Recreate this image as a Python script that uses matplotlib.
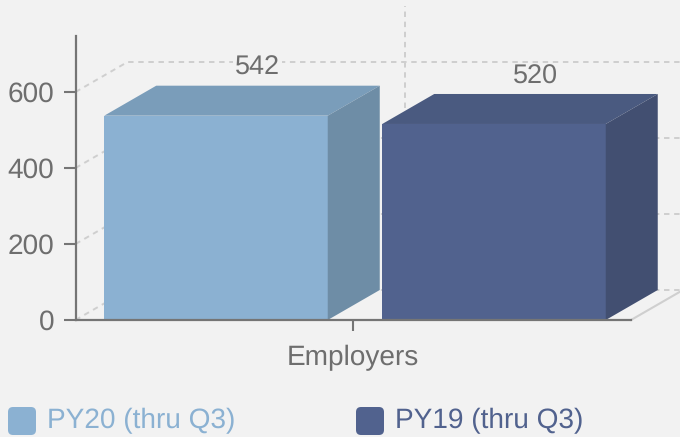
import matplotlib
matplotlib.use('Agg')
import matplotlib.pyplot as plt
from matplotlib.patches import FancyBboxPatch, Polygon
from matplotlib.transforms import IdentityTransform

plt.rcParams['font.family'] = ['Liberation Sans', 'DejaVu Sans']
plt.rcParams['text.hinting'] = 'no_hinting'
plt.rcParams['text.hinting_factor'] = 1

categories = ['Employers']
series_names = ['PY20 (thru Q3)', 'PY19 (thru Q3)']
series_values = [542, 520]
y_ticks = [0, 200, 400, 600]

BG = '#f2f2f2'
AXIS = '#757575'
TEXT = '#6e6e6e'
GRID = '#cfcfcf'
front_colors = ['#8bb1d2', '#51628e']
top_colors = ['#7a9dba', '#4a5a80']
side_colors = ['#6e8da6', '#424f71']

W, H = 680, 437
LEFT, RIGHT, TOP, BOTTOM = 75.5, 631, 36, 320
PX_PER_UNIT = 0.38
# the bars sit a bit lower than the axis scale in the original 3d projection
FRONT_SCALE = 0.992

fig = plt.figure(figsize=(W / 100, H / 100), dpi=100, facecolor=BG)
ax = fig.add_axes([LEFT / W, 1 - BOTTOM / H, (RIGHT - LEFT) / W, (BOTTOM - TOP) / H])
ax.set_facecolor('none')
ax.set_xlim(-0.5, 0.5)
ax.set_ylim(0, (BOTTOM - TOP) / PX_PER_UNIT)

px_x = 1 / (RIGHT - LEFT)
depth_x = 52 * px_x
depth_y = 30 / PX_PER_UNIT
bar_w = 223.5 * px_x
bar_lefts = [(104 - 353) * px_x, (382 - 353) * px_x]
right_end = 0.5 + 55 * px_x
dash = (0, (2.8, 2.4))

# back wall grid
for v in y_ticks:
    ax.plot([-0.5, -0.5 + depth_x, right_end], [v, v + depth_y, v + depth_y], color=GRID,
            lw=1.4, ls=dash, clip_on=False, zorder=1)
ax.plot([depth_x, depth_x], [depth_y, ax.get_ylim()[1] + depth_y], color=GRID, lw=1.4, ls=dash,
        clip_on=False, zorder=1)
ax.plot([0.5, 0.5 + depth_x], [0, depth_y], color=GRID, lw=1.5, clip_on=False, zorder=1)

# bars
for i, v in enumerate(series_values):
    h = v * FRONT_SCALE
    l = bar_lefts[i]
    r = l + bar_w
    ax.bar(l, h, width=bar_w, align='edge', color=front_colors[i], zorder=3)
    ax.add_patch(Polygon([(l, h), (r, h), (r + depth_x, h + depth_y), (l + depth_x, h + depth_y)],
                         closed=True, fc=top_colors[i], ec='none', clip_on=False, zorder=3))
    ax.add_patch(Polygon([(r, 0), (r + depth_x, depth_y), (r + depth_x, h + depth_y), (r, h)],
                         closed=True, fc=side_colors[i], ec='none', clip_on=False, zorder=3))
    ax.annotate(str(v), (l + bar_w / 2, h), xytext=(41.5, 47.5), textcoords='offset pixels',
                ha='center', va='center', fontsize=19.2, color=TEXT, zorder=5,
                bbox=dict(fc=BG, ec='none', pad=1.5) if i == 0 else None)

for s in ['top', 'right']:
    ax.spines[s].set_visible(False)
for s in ['left', 'bottom']:
    ax.spines[s].set_color(AXIS)
    ax.spines[s].set_linewidth(1.6)
    ax.spines[s].set_zorder(6)

ax.set_yticks(y_ticks)
ax.set_xticks([0], categories)
ax.tick_params(axis='y', length=9, width=1.5, color=AXIS, labelcolor=TEXT, labelsize=19.8, pad=6.2)
ax.tick_params(axis='x', length=8, width=1.5, color=AXIS, labelcolor=TEXT, labelsize=20.2, pad=10)

# legend
for i, (name, x0) in enumerate(zip(series_names, [8, 356])):
    fig.add_artist(FancyBboxPatch((x0 + 4, H - 435 + 4), 20, 20, boxstyle='round,pad=4,rounding_size=5',
                                  fc=front_colors[i], ec='none', transform=IdentityTransform()))
    fig.text((x0 + 38.5) / W, 1 - 421 / H, name, color=front_colors[i], fontsize=20.2,
             ha='left', va='center')

fig.savefig('out.png', dpi=100, facecolor=BG)
